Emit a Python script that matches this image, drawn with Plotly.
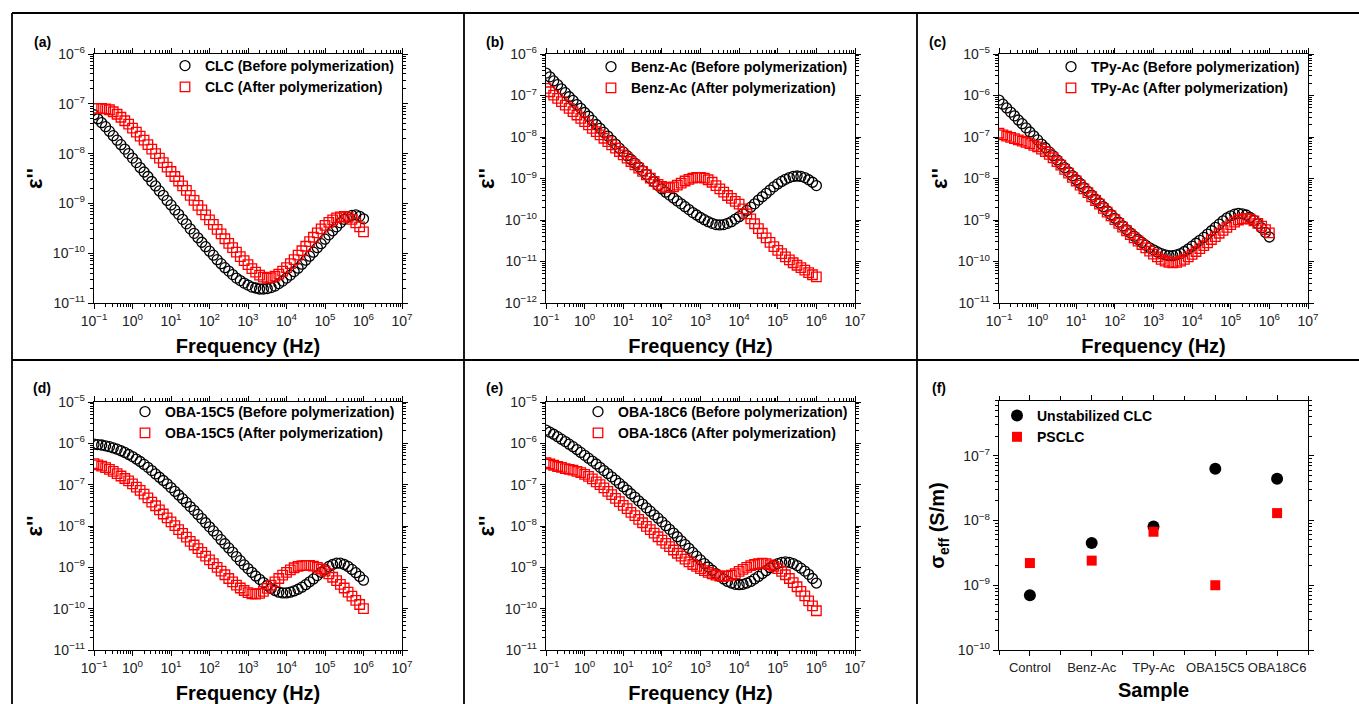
import plotly.graph_objects as go

W, H = 1359, 704
FONT = "Liberation Sans, Arial, Helvetica, sans-serif"

# ---------------- data ----------------
freq = [0.1, 0.126, 0.158, 0.2, 0.251, 0.316, 0.398, 0.501, 0.631, 0.794,
        1, 1.26, 1.58, 2.0, 2.51, 3.16, 3.98, 5.01, 6.31, 7.94,
        10, 12.6, 15.8, 20, 25.1, 31.6, 39.8, 50.1, 63.1, 79.4,
        100, 126, 158, 200, 251, 316, 398, 501, 631, 794,
        1000, 1260, 1580, 2000, 2510, 3160, 3980, 5010, 6310, 7940,
        1.0e4, 1.26e4, 1.58e4, 2.0e4, 2.51e4, 3.16e4, 3.98e4, 5.01e4, 6.31e4, 7.94e4,
        1.0e5, 1.26e5, 1.58e5, 2.0e5, 2.51e5, 3.16e5, 3.98e5, 5.01e5, 6.31e5, 7.94e5,
        1.0e6]

clc_before = [6.03e-8, 5.01e-8, 4.17e-8, 3.47e-8, 2.82e-8, 2.29e-8, 1.86e-8, 1.51e-8, 1.23e-8, 1.00e-8,
              8.13e-9, 6.61e-9, 5.25e-9, 4.27e-9, 3.47e-9, 2.75e-9, 2.24e-9, 1.78e-9, 1.45e-9, 1.15e-9,
              9.33e-10, 7.41e-10, 6.03e-10, 4.79e-10, 3.89e-10, 3.09e-10, 2.51e-10, 2.04e-10, 1.66e-10, 1.35e-10,
              1.10e-10, 9.12e-11, 7.41e-11, 6.17e-11, 5.13e-11, 4.37e-11, 3.72e-11, 3.16e-11, 2.82e-11, 2.51e-11,
              2.29e-11, 2.09e-11, 2.00e-11, 1.91e-11, 1.91e-11, 1.95e-11, 2.04e-11, 2.19e-11, 2.45e-11, 2.75e-11,
              3.16e-11, 3.63e-11, 4.27e-11, 5.01e-11, 6.03e-11, 7.24e-11, 8.71e-11, 1.05e-10, 1.29e-10, 1.55e-10,
              1.91e-10, 2.34e-10, 2.82e-10, 3.39e-10, 4.07e-10, 4.79e-10, 5.37e-10, 5.75e-10, 5.89e-10, 5.50e-10,
              4.90e-10]
clc_after = [8.13e-8, 8.13e-8, 8.13e-8, 7.94e-8, 7.59e-8, 6.92e-8, 6.17e-8, 5.37e-8, 4.57e-8, 3.89e-8,
             3.24e-8, 2.69e-8, 2.24e-8, 1.86e-8, 1.51e-8, 1.23e-8, 1.00e-8, 8.13e-9, 6.61e-9, 5.37e-9,
             4.37e-9, 3.47e-9, 2.82e-9, 2.24e-9, 1.82e-9, 1.45e-9, 1.15e-9, 9.12e-10, 7.41e-10, 5.89e-10,
             4.68e-10, 3.80e-10, 3.02e-10, 2.45e-10, 1.95e-10, 1.58e-10, 1.29e-10, 1.05e-10, 8.51e-11, 7.08e-11,
             5.89e-11, 4.90e-11, 4.17e-11, 3.63e-11, 3.31e-11, 3.16e-11, 3.24e-11, 3.47e-11, 3.80e-11, 4.37e-11,
             5.13e-11, 6.17e-11, 7.41e-11, 9.12e-11, 1.12e-10, 1.38e-10, 1.70e-10, 2.09e-10, 2.57e-10, 3.09e-10,
             3.63e-10, 4.17e-10, 4.68e-10, 5.13e-10, 5.37e-10, 5.50e-10, 5.25e-10, 4.79e-10, 4.07e-10, 3.39e-10,
             2.69e-10]

benz_before = [3.47e-7, 2.82e-7, 2.24e-7, 1.82e-7, 1.45e-7, 1.17e-7, 9.33e-8, 7.59e-8, 6.03e-8, 4.90e-8,
               3.89e-8, 3.16e-8, 2.51e-8, 2.00e-8, 1.62e-8, 1.29e-8, 1.05e-8, 8.32e-9, 6.76e-9, 5.37e-9,
               4.37e-9, 3.55e-9, 2.88e-9, 2.34e-9, 1.91e-9, 1.55e-9, 1.26e-9, 1.02e-9, 8.32e-10, 6.76e-10,
               5.62e-10, 4.68e-10, 3.98e-10, 3.39e-10, 2.88e-10, 2.45e-10, 2.09e-10, 1.78e-10, 1.51e-10, 1.32e-10,
               1.15e-10, 1.02e-10, 9.12e-11, 8.32e-11, 7.76e-11, 7.59e-11, 7.76e-11, 8.32e-11, 9.12e-11, 1.05e-10,
               1.20e-10, 1.41e-10, 1.70e-10, 2.04e-10, 2.45e-10, 3.02e-10, 3.63e-10, 4.37e-10, 5.25e-10, 6.31e-10,
               7.41e-10, 8.51e-10, 9.55e-10, 1.05e-9, 1.12e-9, 1.15e-9, 1.12e-9, 1.05e-9, 9.33e-10, 8.13e-10,
               6.76e-10]
benz_after = [1.48e-7, 1.23e-7, 1.02e-7, 8.51e-8, 7.08e-8, 5.89e-8, 4.90e-8, 4.07e-8, 3.39e-8, 2.82e-8,
              2.34e-8, 1.95e-8, 1.62e-8, 1.35e-8, 1.12e-8, 9.33e-9, 7.76e-9, 6.46e-9, 5.37e-9, 4.47e-9,
              3.72e-9, 3.09e-9, 2.57e-9, 2.14e-9, 1.78e-9, 1.48e-9, 1.23e-9, 1.02e-9, 8.51e-10, 7.24e-10,
              6.46e-10, 6.03e-10, 6.03e-10, 6.31e-10, 6.92e-10, 7.76e-10, 8.71e-10, 9.55e-10, 1.02e-9, 1.07e-9,
              1.07e-9, 1.02e-9, 9.33e-10, 8.13e-10, 6.76e-10, 5.62e-10, 4.68e-10, 3.89e-10, 3.31e-10, 2.82e-10,
              2.40e-10, 1.86e-10, 1.41e-10, 1.07e-10, 8.13e-11, 6.17e-11, 4.79e-11, 3.72e-11, 2.88e-11, 2.29e-11,
              1.86e-11, 1.55e-11, 1.29e-11, 1.10e-11, 9.33e-12, 8.13e-12, 7.08e-12, 6.17e-12, 5.37e-12, 4.79e-12,
              4.27e-12]

tpy_before = [7.76e-7, 6.17e-7, 5.01e-7, 3.98e-7, 3.24e-7, 2.57e-7, 2.09e-7, 1.66e-7, 1.32e-7, 1.07e-7,
              8.51e-8, 6.76e-8, 5.50e-8, 4.37e-8, 3.55e-8, 2.82e-8, 2.24e-8, 1.82e-8, 1.45e-8, 1.17e-8,
              9.33e-9, 7.59e-9, 6.03e-9, 4.90e-9, 3.98e-9, 3.16e-9, 2.57e-9, 2.09e-9, 1.66e-9, 1.35e-9,
              1.10e-9, 8.91e-10, 7.24e-10, 5.89e-10, 4.90e-10, 4.07e-10, 3.39e-10, 2.88e-10, 2.45e-10, 2.14e-10,
              1.91e-10, 1.70e-10, 1.55e-10, 1.45e-10, 1.38e-10, 1.38e-10, 1.45e-10, 1.55e-10, 1.74e-10, 2.00e-10,
              2.34e-10, 2.75e-10, 3.24e-10, 3.80e-10, 4.57e-10, 5.50e-10, 6.61e-10, 7.94e-10, 9.55e-10, 1.12e-9,
              1.26e-9, 1.38e-9, 1.45e-9, 1.41e-9, 1.32e-9, 1.15e-9, 9.77e-10, 8.13e-10, 6.46e-10, 5.01e-10,
              3.89e-10]
tpy_after = [1.23e-7, 1.12e-7, 1.05e-7, 9.77e-8, 9.12e-8, 8.51e-8, 7.94e-8, 7.41e-8, 6.92e-8, 6.31e-8,
             5.75e-8, 5.13e-8, 4.47e-8, 3.80e-8, 3.16e-8, 2.57e-8, 2.09e-8, 1.66e-8, 1.35e-8, 1.07e-8,
             8.71e-9, 6.92e-9, 5.62e-9, 4.57e-9, 3.63e-9, 2.95e-9, 2.40e-9, 1.91e-9, 1.55e-9, 1.26e-9,
             1.02e-9, 8.32e-10, 6.76e-10, 5.50e-10, 4.47e-10, 3.72e-10, 3.09e-10, 2.57e-10, 2.14e-10, 1.78e-10,
             1.51e-10, 1.29e-10, 1.12e-10, 1.02e-10, 9.55e-11, 9.33e-11, 9.55e-11, 1.02e-10, 1.12e-10, 1.29e-10,
             1.48e-10, 1.74e-10, 2.04e-10, 2.40e-10, 2.82e-10, 3.39e-10, 3.98e-10, 4.79e-10, 5.62e-10, 6.61e-10,
             7.76e-10, 8.91e-10, 1.00e-9, 1.07e-9, 1.10e-9, 1.05e-9, 9.55e-10, 8.32e-10, 7.08e-10, 5.89e-10,
             4.90e-10]

oba15_before = [9.55e-7, 9.33e-7, 9.12e-7, 8.71e-7, 8.32e-7, 7.76e-7, 7.24e-7, 6.61e-7, 6.03e-7, 5.37e-7,
                4.79e-7, 4.17e-7, 3.63e-7, 3.09e-7, 2.63e-7, 2.19e-7, 1.82e-7, 1.51e-7, 1.26e-7, 1.05e-7,
                8.51e-8, 6.92e-8, 5.62e-8, 4.57e-8, 3.72e-8, 2.95e-8, 2.40e-8, 1.91e-8, 1.51e-8, 1.20e-8,
                9.55e-9, 7.59e-9, 6.03e-9, 4.68e-9, 3.72e-9, 2.95e-9, 2.34e-9, 1.82e-9, 1.45e-9, 1.15e-9,
                9.33e-10, 7.59e-10, 6.17e-10, 5.13e-10, 4.27e-10, 3.63e-10, 3.09e-10, 2.75e-10, 2.51e-10, 2.40e-10,
                2.40e-10, 2.51e-10, 2.69e-10, 2.95e-10, 3.31e-10, 3.80e-10, 4.47e-10, 5.25e-10, 6.31e-10, 7.59e-10,
                8.91e-10, 1.05e-9, 1.17e-9, 1.26e-9, 1.26e-9, 1.17e-9, 1.05e-9, 8.91e-10, 7.41e-10, 6.03e-10,
                4.90e-10]
oba15_after = [3.24e-7, 3.02e-7, 2.82e-7, 2.57e-7, 2.34e-7, 2.09e-7, 1.86e-7, 1.62e-7, 1.41e-7, 1.23e-7,
               1.05e-7, 8.71e-8, 7.24e-8, 5.89e-8, 4.79e-8, 3.80e-8, 3.09e-8, 2.45e-8, 1.95e-8, 1.58e-8,
               1.26e-8, 1.02e-8, 8.13e-9, 6.61e-9, 5.37e-9, 4.27e-9, 3.47e-9, 2.82e-9, 2.29e-9, 1.86e-9,
               1.51e-9, 1.23e-9, 1.00e-9, 8.13e-10, 6.61e-10, 5.37e-10, 4.47e-10, 3.72e-10, 3.16e-10, 2.75e-10,
               2.45e-10, 2.29e-10, 2.24e-10, 2.34e-10, 2.63e-10, 3.09e-10, 3.72e-10, 4.47e-10, 5.37e-10, 6.46e-10,
               7.59e-10, 8.71e-10, 9.77e-10, 1.05e-9, 1.10e-9, 1.12e-9, 1.12e-9, 1.07e-9, 1.00e-9, 9.12e-10,
               8.13e-10, 6.92e-10, 5.75e-10, 4.79e-10, 3.89e-10, 3.16e-10, 2.51e-10, 2.00e-10, 1.58e-10, 1.26e-10,
               1.00e-10]

oba18_before = [2.09e-6, 1.86e-6, 1.66e-6, 1.45e-6, 1.26e-6, 1.10e-6, 9.55e-7, 8.32e-7, 7.08e-7, 6.03e-7,
                5.13e-7, 4.37e-7, 3.72e-7, 3.16e-7, 2.63e-7, 2.19e-7, 1.86e-7, 1.55e-7, 1.29e-7, 1.07e-7,
                8.91e-8, 7.41e-8, 6.03e-8, 5.01e-8, 4.07e-8, 3.39e-8, 2.75e-8, 2.29e-8, 1.86e-8, 1.55e-8,
                1.26e-8, 1.02e-8, 8.32e-9, 6.76e-9, 5.50e-9, 4.37e-9, 3.55e-9, 2.88e-9, 2.29e-9, 1.86e-9,
                1.51e-9, 1.23e-9, 1.02e-9, 8.51e-10, 7.08e-10, 6.03e-10, 5.25e-10, 4.57e-10, 4.17e-10, 3.89e-10,
                3.80e-10, 3.89e-10, 4.17e-10, 4.57e-10, 5.25e-10, 6.03e-10, 7.08e-10, 8.32e-10, 9.77e-10, 1.12e-9,
                1.23e-9, 1.32e-9, 1.35e-9, 1.32e-9, 1.23e-9, 1.10e-9, 9.55e-10, 8.13e-10, 6.76e-10, 5.37e-10,
                4.17e-10]
oba18_after = [3.39e-7, 3.16e-7, 2.95e-7, 2.75e-7, 2.63e-7, 2.45e-7, 2.34e-7, 2.24e-7, 2.09e-7, 1.95e-7,
               1.78e-7, 1.58e-7, 1.38e-7, 1.17e-7, 1.00e-7, 8.32e-8, 6.92e-8, 5.75e-8, 4.68e-8, 3.89e-8,
               3.16e-8, 2.63e-8, 2.14e-8, 1.78e-8, 1.45e-8, 1.20e-8, 9.77e-9, 8.13e-9, 6.76e-9, 5.50e-9,
               4.57e-9, 3.80e-9, 3.16e-9, 2.63e-9, 2.19e-9, 1.86e-9, 1.58e-9, 1.35e-9, 1.17e-9, 1.05e-9,
               9.33e-10, 8.32e-10, 7.59e-10, 6.92e-10, 6.46e-10, 6.17e-10, 6.03e-10, 6.17e-10, 6.46e-10, 7.08e-10,
               7.94e-10, 8.91e-10, 1.00e-9, 1.10e-9, 1.17e-9, 1.23e-9, 1.26e-9, 1.23e-9, 1.15e-9, 1.05e-9,
               9.33e-10, 7.94e-10, 6.61e-10, 5.37e-10, 4.27e-10, 3.39e-10, 2.63e-10, 2.04e-10, 1.55e-10, 1.17e-10,
               8.91e-11]

samples = ["Control", "Benz-Ac", "TPy-Ac", "OBA15C5", "OBA18C6"]
sigma_unstabilized = [7.0e-10, 4.5e-9, 8.1e-9, 6.3e-8, 4.4e-8]
sigma_psclc = [2.2e-9, 2.4e-9, 6.7e-9, 1.0e-9, 1.3e-8]

freq_tickvals = [0.1, 1, 10, 100, 1e3, 1e4, 1e5, 1e6, 1e7]
freq_ticktext = ["10<sup>−1</sup>", "10<sup>0</sup>", "10<sup>1</sup>", "10<sup>2</sup>", "10<sup>3</sup>",
                 "10<sup>4</sup>", "10<sup>5</sup>", "10<sup>6</sup>", "10<sup>7</sup>"]
y_tickvals = [1e-12, 1e-11, 1e-10, 1e-9, 1e-8, 1e-7, 1e-6, 1e-5]
y_ticktext = ["10<sup>−12</sup>", "10<sup>−11</sup>", "10<sup>−10</sup>", "10<sup>−9</sup>",
              "10<sup>−8</sup>", "10<sup>−7</sup>", "10<sup>−6</sup>", "10<sup>−5</sup>"]

# ---------------- layout helpers ----------------
def fx(p):
    return p / W


def fy(p):
    return 1 - p / H


panels = [
    dict(lab="(a)", name="CLC", before=clc_before, after=clc_after, yr=[-11, -6],
         box=(94, 402, 54, 303), leg=(185, 69), labpos=(42, 42)),
    dict(lab="(b)", name="Benz-Ac", before=benz_before, after=benz_after, yr=[-12, -6],
         box=(546, 855, 54, 303), leg=(611, 70), labpos=(495, 42)),
    dict(lab="(c)", name="TPy-Ac", before=tpy_before, after=tpy_after, yr=[-11, -5],
         box=(999, 1308, 54, 303), leg=(1071, 70), labpos=(937, 42)),
    dict(lab="(d)", name="OBA-15C5", before=oba15_before, after=oba15_after, yr=[-11, -5],
         box=(94, 402, 402, 650), leg=(145, 415), labpos=(42, 388)),
    dict(lab="(e)", name="OBA-18C6", before=oba18_before, after=oba18_after, yr=[-11, -5],
         box=(546, 855, 402, 650), leg=(598, 415), labpos=(495, 388)),
]

tickfont = dict(family=FONT, size=14, color="#222222")
titlefont = dict(family=FONT, size=20, color="black", weight="bold")
legfont = dict(family=FONT, size=14, color="black", weight="bold")


def axis_common():
    return dict(ticks="outside", ticklen=5, tickwidth=1.2, tickcolor="black",
                showline=True, linecolor="black", linewidth=1.3, mirror="ticks",
                showgrid=False, zeroline=False, tickfont=tickfont, automargin=False)


fig = go.Figure()
layout = dict(width=W, height=H, autosize=False, margin=dict(l=0, r=0, t=0, b=0, pad=0),
              paper_bgcolor="white", plot_bgcolor="white", showlegend=True,
              font=dict(family=FONT, color="black"))
annotations = []

for i, p in enumerate(panels):
    n = i + 1
    xa = "x" if n == 1 else f"x{n}"
    ya = "y" if n == 1 else f"y{n}"
    leg = "legend" if n == 1 else f"legend{n}"
    x0, x1, y0, y1 = p["box"]
    fig.add_trace(go.Scatter(x=freq, y=p["before"], mode="markers", xaxis=xa, yaxis=ya,
                             name=f"{p['name']} (Before polymerization)", legend=leg,
                             marker=dict(symbol="circle-open", size=10, color="black",
                                         line=dict(width=1.3, color="black"))))
    fig.add_trace(go.Scatter(x=freq, y=p["after"], mode="markers", xaxis=xa, yaxis=ya,
                             name=f"{p['name']} (After polymerization)", legend=leg,
                             marker=dict(symbol="square-open", size=9.5, color="red",
                                         line=dict(width=1.3, color="red"))))
    xax = axis_common()
    xax.update(type="log", domain=[fx(x0), fx(x1)], range=[-1, 7], anchor=ya,
               tickmode="array", tickvals=freq_tickvals, ticktext=freq_ticktext,
               minor=dict(ticks="outside", ticklen=3, tickwidth=1, tickcolor="black", dtick="D1", showgrid=False),
               title=dict(text="Frequency (Hz)", font=titlefont, standoff=11))
    yax = axis_common()
    yax.update(type="log", domain=[fy(y1), fy(y0)], range=p["yr"], anchor=xa,
               tickmode="array", tickvals=y_tickvals, ticktext=y_ticktext,
               minor=dict(ticks="outside", ticklen=3, tickwidth=1, tickcolor="black", dtick="D1", showgrid=False),
               title=dict(text="ε''", font=dict(family=FONT, size=22, color="black", weight="bold"), standoff=4))
    layout["xaxis" if n == 1 else f"xaxis{n}"] = xax
    layout["yaxis" if n == 1 else f"yaxis{n}"] = yax
    mx, my = p["leg"]
    layout[leg] = dict(x=fx(mx - 20), y=fy(my - 19), xanchor="left", yanchor="top",
                       bgcolor="rgba(0,0,0,0)", borderwidth=0, font=legfont, tracegroupgap=0)
    annotations.append(dict(text=p["lab"], x=fx(p["labpos"][0]), y=fy(p["labpos"][1]),
                            xref="paper", yref="paper", showarrow=False, xanchor="center", yanchor="middle",
                            font=dict(family=FONT, size=14, color="black", weight="bold")))

# panel (f)
xpos = list(range(len(samples)))
fig.add_trace(go.Scatter(x=xpos, y=sigma_unstabilized, mode="markers", xaxis="x6", yaxis="y6",
                         name="Unstabilized CLC", legend="legend6",
                         marker=dict(symbol="circle", size=12, color="black")))
fig.add_trace(go.Scatter(x=xpos, y=sigma_psclc, mode="markers", xaxis="x6", yaxis="y6",
                         name="PSCLC", legend="legend6",
                         marker=dict(symbol="square", size=10, color="red")))
xax = axis_common()
xax.update(type="linear", domain=[fx(999), fx(1308)], range=[-0.5, 4.5], anchor="y6",
           tickmode="array", tickvals=xpos, ticktext=samples,
           tickfont=dict(family=FONT, size=13, color="#222222"),
           minor=dict(ticks="outside", ticklen=4, tickwidth=1, tickcolor="black", tick0=0.5, dtick=1, showgrid=False),
           title=dict(text="Sample", font=titlefont, standoff=9))
yax = axis_common()
yax.update(type="log", domain=[fy(650), fy(401)], range=[-10, -6.155], anchor="x6",
           tickmode="array", tickvals=y_tickvals, ticktext=y_ticktext,
           minor=dict(ticks="outside", ticklen=3, tickwidth=1, tickcolor="black", dtick="D1", showgrid=False),
           title=dict(text="σ<sub>eff</sub> (S/m)", font=titlefont, standoff=7))
layout["xaxis6"] = xax
layout["yaxis6"] = yax
layout["legend6"] = dict(x=fx(1017 - 20), y=fy(417 - 17), xanchor="left", yanchor="top",
                         bgcolor="rgba(0,0,0,0)", borderwidth=0, font=legfont, tracegroupgap=0)
annotations.append(dict(text="(f)", x=fx(939), y=fy(388), xref="paper", yref="paper", showarrow=False,
                        xanchor="center", yanchor="middle",
                        font=dict(family=FONT, size=14, color="black", weight="bold")))

# frame lines around the panels
shapes = []
line_style = dict(color="black", width=1.8)
for (xa_, ya_, xb_, yb_) in [(12, 13, W, 13), (12, 13, 12, H), (464, 13, 464, H),
                             (917, 13, 917, H), (12, 360, W, 360)]:
    shapes.append(dict(type="line", xref="paper", yref="paper", x0=fx(xa_), y0=fy(ya_),
                       x1=fx(xb_), y1=fy(yb_), line=line_style, layer="above"))

layout["annotations"] = annotations
layout["shapes"] = shapes
fig.update_layout(**layout)

fig.write_html("out.html", config={"displayModeBar": False},
               post_script="document.body.style.margin='0';document.body.style.overflow='hidden';")
